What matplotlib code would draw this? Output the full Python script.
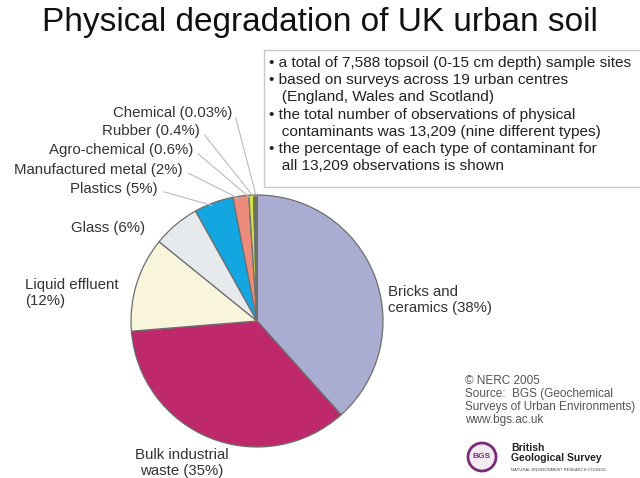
import numpy as np
import matplotlib.pyplot as plt
from matplotlib.patches import Rectangle, Ellipse

plt.rcParams['font.family'] = ['Liberation Sans', 'DejaVu Sans']

# Частки забруднювачів (%)
labels = ['Bricks and\nceramics (38%)', 'Bulk industrial\nwaste (35%)',
          'Liquid effluent\n(12%)', 'Glass (6%)', 'Plastics (5%)',
          'Manufactured metal (2%)', 'Agro-chemical (0.6%)',
          'Rubber (0.4%)', 'Chemical (0.03%)']
shares = [38, 35, 12, 6, 5, 2, 0.6, 0.4, 0.03]
colors = ['#aaadd2', '#c0286c', '#f8f5dc', '#e6eaec', '#14a6e0',
          '#ec8c7c', '#d2e04c', '#6a7a30', '#9098b8']

notes = ['• a total of 7,588 topsoil (0-15 cm depth) sample sites',
         '• based on surveys across 19 urban centres',
         '   (England, Wales and Scotland)',
         '• the total number of observations of physical',
         '   contaminants was 13,209 (nine different types)',
         '• the percentage of each type of contaminant for',
         '   all 13,209 observations is shown']
source = ['© NERC 2005', 'Source:  BGS (Geochemical',
          'Surveys of Urban Environments)', 'www.bgs.ac.uk']

W, H = 640, 478
fig = plt.figure(figsize=(6.4, 4.78), dpi=100)


def fx(px):
    return px / W


def fy(py):
    return 1 - py / H


ax = fig.add_axes([fx(131), fy(447), fx(252), 252 / H])
wedges, _ = ax.pie(shares, colors=colors, startangle=90, counterclock=False,
                   wedgeprops=dict(edgecolor='#6e6e6e', linewidth=0.9))
ax.set_xlim(-1, 1)
ax.set_ylim(-1, 1)
ax.set_aspect('equal')
ax.axis('off')

# Підписи: (x, y у пікселях, вирівнювання, лінія-виноска)
pos = [(388, 300, 'left', False), (182, 463, 'center', False),
       (25, 293, 'left', False), (145, 228, 'right', False),
       (158, 189, 'right', True), (183, 170, 'right', True),
       (193, 150, 'right', True), (200, 131, 'right', True),
       (232, 113, 'right', True)]
for w, lab, (x, y, ha, lead) in zip(wedges, labels, pos):
    fig.text(fx(x), fy(y), lab, ha=ha, va='center', fontsize=10.8,
             color='#333333', linespacing=1.15)
    if lead:
        ang = np.deg2rad((w.theta1 + w.theta2) / 2)
        ax.annotate('', xy=(0.97 * np.cos(ang), 0.97 * np.sin(ang)),
                    xytext=(fx(x + 3), fy(y + 2)),
                    textcoords='figure fraction',
                    arrowprops=dict(arrowstyle='-', color='#bbbbbb', lw=0.8),
                    annotation_clip=False)

fig.text(0.5, fy(23), 'Physical degradation of UK urban soil', ha='center',
         va='center', fontsize=24, color='#111111')

fig.patches.append(Rectangle((fx(264), fy(187)), fx(400), 137 / H,
                             transform=fig.transFigure, facecolor='white',
                             edgecolor='#c8c8c8', linewidth=1))
for i, line in enumerate(notes):
    fig.text(fx(269), fy(63 + i * 17.2), line, ha='left', va='center',
             fontsize=11.1, color='#222222')

for i, line in enumerate(source):
    fig.text(fx(465), fy(381 + i * 13), line, ha='left', va='center',
             fontsize=8.5, color='#555555')

# Логотип BGS
fig.patches.append(Ellipse((fx(482), fy(457)), 28 / W, 28 / H,
                           transform=fig.transFigure, facecolor='#f4eaf2',
                           edgecolor='#7a2a7a', linewidth=2))
fig.text(fx(482), fy(457), 'BGS', ha='center', va='center', fontsize=6,
         fontweight='bold', color='#7a2a7a')
fig.text(fx(511), fy(453), 'British\nGeological Survey', ha='left', va='center',
         fontsize=7.5, fontweight='bold', color='#222222', linespacing=1.0)
fig.text(fx(511), fy(470), 'NATURAL ENVIRONMENT RESEARCH COUNCIL', ha='left',
         va='center', fontsize=3, color='#444444')

fig.savefig('out.png', dpi=100)
